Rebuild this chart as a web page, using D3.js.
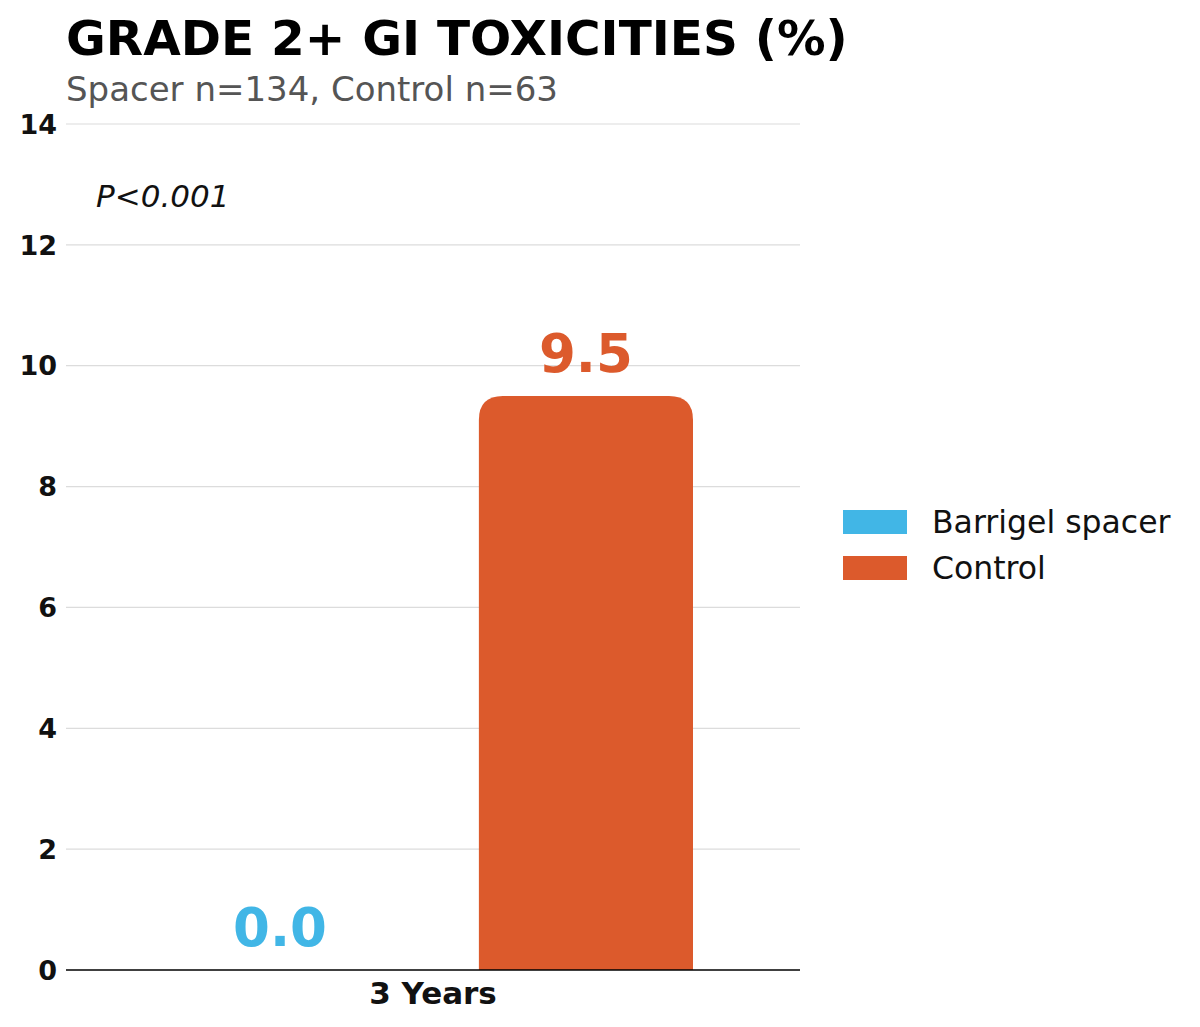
<!DOCTYPE html>
<html>
<head>
<meta charset="utf-8">
<script src="https://cdn.jsdelivr.net/npm/d3@7"></script>
<style>
  html, body { margin: 0; padding: 0; background: #fff; }
  svg { display: block; font-family: "DejaVu Sans", sans-serif; }
</style>
</head>
<body>
<svg id="chart" width="1200" height="1027"></svg>
<script>
const categories = ["3 Years"];
const seriesNames = ["Barrigel spacer", "Control"];
const spacerValues = [0.0];
const controlValues = [9.5];
const yTicks = [0, 2, 4, 6, 8, 10, 12, 14];
const colors = ["#41B6E6", "#DC5A2C"];

const W = 1200, H = 1027;
const m = { l: 66, r: 400, t: 124, b: 57 };
const svg = d3.select("#chart");

const x = d3.scaleBand().domain(categories).range([m.l, W - m.r]).paddingInner(0).paddingOuter(0);
const x1 = d3.scaleBand().domain(seriesNames).range([107, x.bandwidth() - 107]).paddingInner(0.3);
const y = d3.scaleLinear().domain([0, 14]).range([H - m.b, m.t]);

// gridlines
svg.append("g").selectAll("line").data(yTicks.filter(d => d > 0)).join("line")
  .attr("x1", m.l).attr("x2", W - m.r)
  .attr("y1", d => y(d)).attr("y2", d => y(d))
  .attr("stroke", "#dcdcdc").attr("stroke-width", 1.2);

// y tick labels
svg.append("g").selectAll("text").data(yTicks).join("text")
  .attr("x", 57).attr("y", d => y(d)).attr("dy", "0.36em")
  .attr("text-anchor", "end").attr("font-size", 27).attr("font-weight", "bold")
  .attr("fill", "#111").text(d => d);

const rows = categories.map((c, i) => ({ cat: c, values: [spacerValues[i], controlValues[i]] }));

function topRounded(x0, w, y0, y1, r) {
  const h = y1 - y0;
  r = Math.min(r, w / 2, h);
  if (h <= 0) return "";
  return `M${x0},${y1}V${y0 + r}Q${x0},${y0} ${x0 + r},${y0}H${x0 + w - r}Q${x0 + w},${y0} ${x0 + w},${y0 + r}V${y1}Z`;
}

const g = svg.append("g").selectAll("g").data(rows).join("g")
  .attr("transform", d => `translate(${x(d.cat)},0)`);

g.selectAll("path").data(d => d.values.map((v, i) => ({ v, s: seriesNames[i], i }))).join("path")
  .attr("d", d => topRounded(x1(d.s), x1.bandwidth(), y(d.v), y(0), 24))
  .attr("fill", d => colors[d.i]);

g.selectAll("text.val").data(d => d.values.map((v, i) => ({ v, s: seriesNames[i], i }))).join("text")
  .attr("class", "val")
  .attr("x", d => x1(d.s) + x1.bandwidth() / 2)
  .attr("y", d => y(d.v) - 24)
  .attr("text-anchor", "middle").attr("font-size", 53).attr("font-weight", "bold")
  .attr("fill", d => colors[d.i]).text(d => d.v.toFixed(1));

// baseline
svg.append("line").attr("x1", m.l).attr("x2", W - m.r)
  .attr("y1", y(0)).attr("y2", y(0)).attr("stroke", "#000").attr("stroke-width", 1.5);

// x labels
svg.append("g").selectAll("text").data(categories).join("text")
  .attr("x", d => x(d) + x.bandwidth() / 2).attr("y", 1004)
  .attr("text-anchor", "middle").attr("font-size", 31).attr("font-weight", "bold")
  .attr("fill", "#111").text(d => d);

// title
svg.append("text").attr("x", 66).attr("y", 55).attr("font-size", 48.5).attr("font-weight", "bold")
  .attr("fill", "#000").text("GRADE 2+ GI TOXICITIES (%)");
svg.append("text").attr("x", 66).attr("y", 101).attr("font-size", 34)
  .attr("fill", "#555").text("Spacer n=134, Control n=63");

// p-value
svg.append("text").attr("x", 96).attr("y", 207).attr("font-size", 31).attr("font-style", "italic")
  .attr("fill", "#111").text("P<0.001");

// legend
const lg = svg.append("g").selectAll("g").data(seriesNames).join("g")
  .attr("transform", (d, i) => `translate(843,${510 + i * 46})`);
lg.append("rect").attr("width", 64).attr("height", 24).attr("fill", (d, i) => colors[i]);
lg.append("text").attr("x", 89).attr("y", 12).attr("dy", "0.36em")
  .attr("font-size", 31.5).attr("fill", "#111").text(d => d);
</script>
</body>
</html>
